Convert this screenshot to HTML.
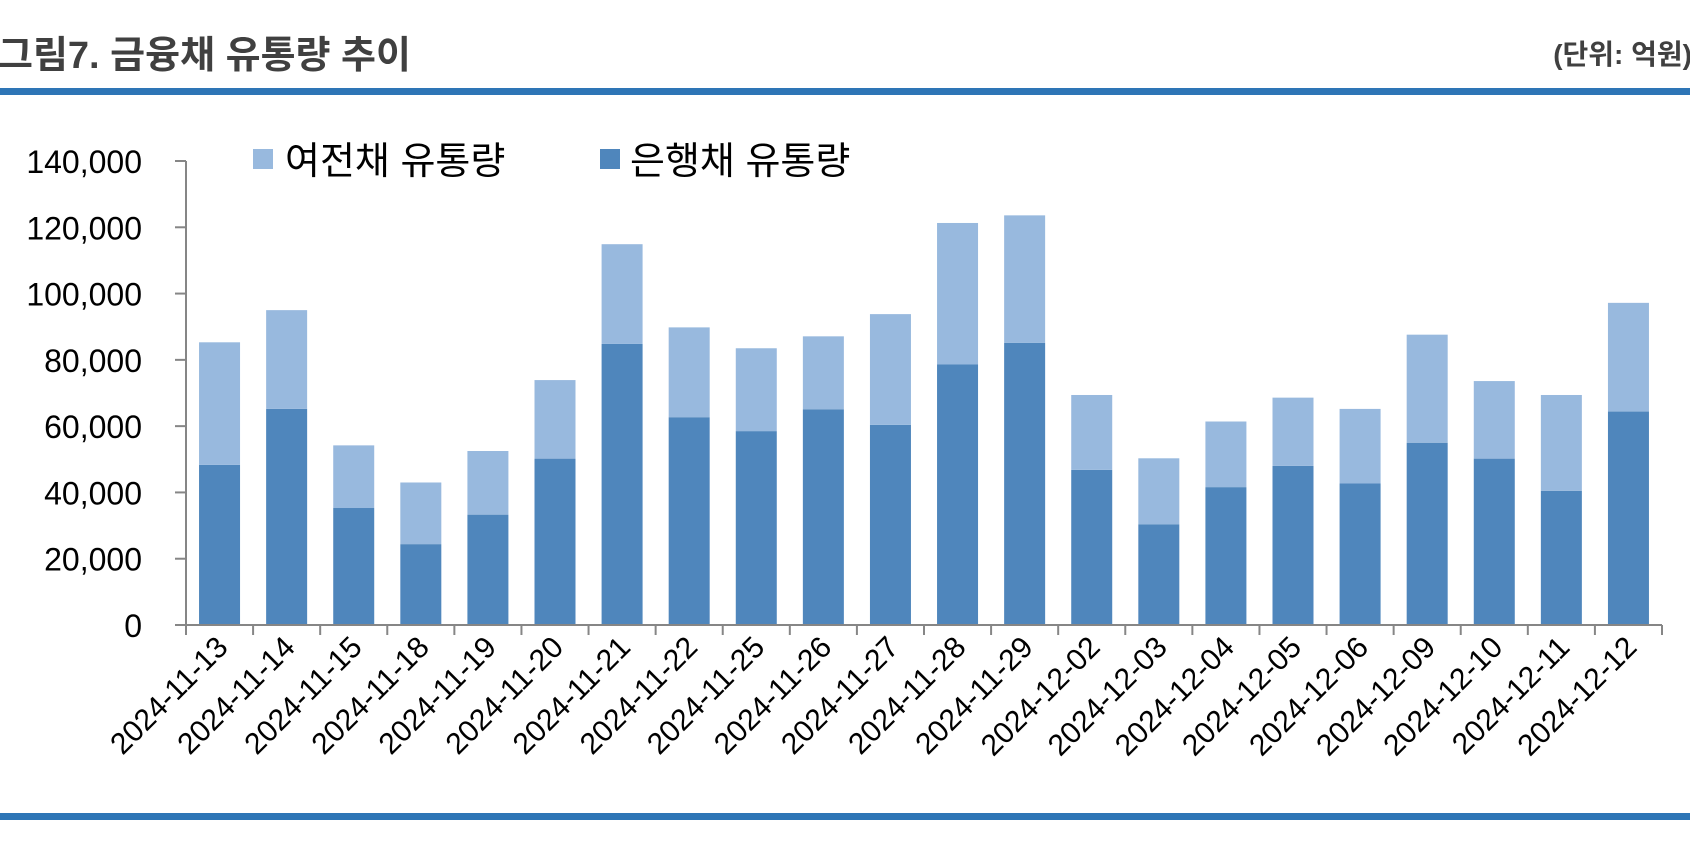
<!DOCTYPE html>
<html><head><meta charset="utf-8"><style>
html,body{margin:0;padding:0;background:#fff;}
svg{display:block;font-family:"Liberation Sans","Noto Sans CJK KR",sans-serif;}
</style></head><body>
<svg id="chart" width="1690" height="868" viewBox="0 0 1690 868" xmlns="http://www.w3.org/2000/svg">
<text x="-2" y="68" font-size="38" font-weight="bold" fill="#404040">그림7. 금융채 유통량 추이</text>
<text x="1692" y="64" font-size="28" font-weight="bold" fill="#404040" text-anchor="end">(단위: 억원)</text>
<rect x="0" y="88" width="1690" height="7" fill="#2E75B6"/>
<rect x="0" y="813" width="1690" height="7" fill="#2E75B6"/>
<g>
<rect x="253" y="149" width="20" height="20" fill="#98B9DE"/>
<text x="285" y="174" font-size="38" fill="#000">여전채 유통량</text>
<rect x="600" y="149" width="20" height="20" fill="#4F86BC"/>
<text x="630" y="174" font-size="38" fill="#000">은행채 유통량</text>
</g>
<g id="plot"></g>
</svg>
<script>
const categories=["2024-11-13","2024-11-14","2024-11-15","2024-11-18","2024-11-19","2024-11-20","2024-11-21","2024-11-22","2024-11-25","2024-11-26","2024-11-27","2024-11-28","2024-11-29","2024-12-02","2024-12-03","2024-12-04","2024-12-05","2024-12-06","2024-12-09","2024-12-10","2024-12-11","2024-12-12"];
const bankValues=[48300,65200,35300,24400,33300,50200,84800,62700,58500,65100,60400,78600,85100,46800,30400,41600,48000,42700,55000,50200,40500,64400];
const cardValues=[37000,29800,18900,18600,19200,23700,30100,27100,25000,22000,33400,42700,38500,22600,19900,19800,20600,22500,32600,23400,28900,32800];
const yTicks=[0,20000,40000,60000,80000,100000,120000,140000];
const yTickLabels=["0","20,000","40,000","60,000","80,000","100,000","120,000","140,000"];

const NS="http://www.w3.org/2000/svg";
const plot=document.getElementById('plot');
const x0=186,x1=1662,yBase=625,yTop=161,yMax=140000;
const step=(x1-x0)/categories.length, barW=41;
const y=v=>yBase-(v/yMax)*(yBase-yTop);
const xc=i=>x0+step*(i+0.5);
function mk(tag,attrs){const e=document.createElementNS(NS,tag);for(const k in attrs)e.setAttribute(k,attrs[k]);plot.appendChild(e);return e;}

categories.forEach((c,i)=>{
  const b=bankValues[i], t=b+cardValues[i];
  const r1=mk('rect',{x:xc(i)-barW/2,y:y(b),width:barW,height:yBase-y(b),fill:'#4F86BC'});
  
  
  const r2=mk('rect',{x:xc(i)-barW/2,y:y(t),width:barW,height:y(b)-y(t),fill:'#98B9DE'});
  
  
  const tx=xc(i)+10, ty=yBase+24;
  const lb=mk('text',{x:tx,y:ty,'font-size':30,'text-anchor':'end',fill:'#000',transform:`rotate(-45 ${tx} ${ty})`});
  lb.textContent=c;
  
  
});
const ya=mk('line',{x1:x0,y1:yTop,x2:x0,y2:yBase,stroke:'#868686','stroke-width':2});


const xa=mk('line',{x1:x0-11,y1:yBase,x2:x1,y2:yBase,stroke:'#868686','stroke-width':2});


for(let i=0;i<=categories.length;i++){
  const xx=x0+step*i;
  const tk=mk('line',{x1:xx,y1:yBase,x2:xx,y2:yBase+10,stroke:'#868686','stroke-width':2});
  
  
}
yTicks.forEach((v,i)=>{
  const tk=mk('line',{x1:x0-11,y1:y(v),x2:x0,y2:y(v),stroke:'#868686','stroke-width':2});
  
  
  const t=mk('text',{x:142,y:y(v)+12,'font-size':32,'text-anchor':'end',fill:'#000'});
  t.textContent=yTickLabels[i];
  
  
});
</script>
</body></html>
